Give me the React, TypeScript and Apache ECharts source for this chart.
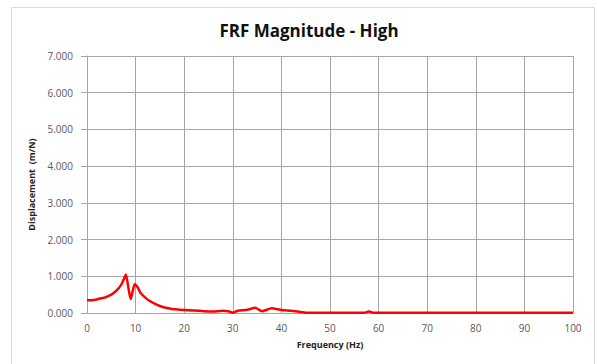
import React, { useEffect, useRef } from "react";
import * as echarts from "echarts";

const freqs = [0, 1, 2, 3, 4, 5, 6, 7, 7.5, 8, 8.5, 9, 9.8, 10.5, 11, 12, 13, 14, 15, 16, 17, 18, 19, 20, 22, 24, 26, 27, 28, 29, 30, 31, 33, 34.6, 36, 38, 40, 42, 44, 45, 50, 57, 58, 59, 65, 70, 80, 90, 100];
const magnitudes = [0.35, 0.35, 0.37, 0.4, 0.44, 0.5, 0.6, 0.76, 0.9, 1.05, 0.7, 0.38, 0.78, 0.68, 0.55, 0.42, 0.32, 0.25, 0.19, 0.15, 0.12, 0.1, 0.09, 0.08, 0.07, 0.05, 0.04, 0.05, 0.06, 0.05, 0.01, 0.06, 0.09, 0.14, 0.05, 0.13, 0.08, 0.06, 0.03, 0.01, 0.01, 0.01, 0.04, 0.01, 0.01, 0.01, 0.01, 0.01, 0.01];

const titleText = "FRF Magnitude - High";
const xName = "Frequency (Hz)";
const yName = "Displacement  (m/N)";

export default function App() {
  const ref = useRef<HTMLDivElement>(null);
  useEffect(() => {
    if (!ref.current) return;
    const chart = echarts.init(ref.current, null, { renderer: "svg" });
    const data = freqs.map((f, i) => [f, magnitudes[i]]);
    chart.setOption({
      animation: false,
      backgroundColor: "#ffffff",
      title: {
        text: titleText,
        left: 304,
        textAlign: "center",
        top: 17,
        textStyle: { fontFamily: "Open Sans", fontWeight: "bold", fontSize: 17, color: "#111111" },
      },
      graphic: [
        {
          type: "rect",
          shape: { x: 11.5, y: 7.5, width: 583, height: 400 },
          style: { fill: "none", stroke: "#d9d9d9", lineWidth: 1 },
          silent: true,
        },
      ],
      grid: { left: 87, right: 24, top: 56, bottom: 51 },
      xAxis: {
        type: "value",
        min: 0,
        max: 100,
        interval: 10,
        name: xName,
        nameLocation: "middle",
        nameGap: 27,
        nameTextStyle: { fontFamily: "Open Sans", fontWeight: "bold", fontSize: 9, color: "#222" },
        axisLine: { show: true, lineStyle: { color: "#a6a6a6" } },
        axisTick: { show: false },
        axisLabel: { fontFamily: "Open Sans", fontSize: 10, color: "#595959", margin: 10 },
        splitLine: { show: true, lineStyle: { color: "#a6a6a6", width: 1 } },
      },
      yAxis: {
        type: "value",
        min: 0,
        max: 7,
        interval: 1,
        name: yName,
        nameLocation: "middle",
        nameGap: 51,
        nameTextStyle: { fontFamily: "Open Sans", fontWeight: "bold", fontSize: 9, color: "#222" },
        axisLine: { show: true, lineStyle: { color: "#a6a6a6" } },
        axisTick: { show: true, length: 6, lineStyle: { color: "#a6a6a6" } },
        axisLabel: {
          fontFamily: "Open Sans",
          fontSize: 10,
          color: "#595959",
          margin: 14,
          formatter: (v: number) => v.toFixed(3),
        },
        splitLine: { show: true, lineStyle: { color: "#a6a6a6", width: 1 } },
      },
      series: [
        {
          type: "line",
          data,
          showSymbol: false,
          smooth: 0.2,
          lineStyle: { color: "#ff0000", width: 2.5 },
          itemStyle: { color: "#ff0000" },
        },
      ],
    });
    return () => chart.dispose();
  }, []);
  return <div ref={ref} style={{ position: "absolute", left: 0, top: 0, width: 597, height: 364 }} />;
}
